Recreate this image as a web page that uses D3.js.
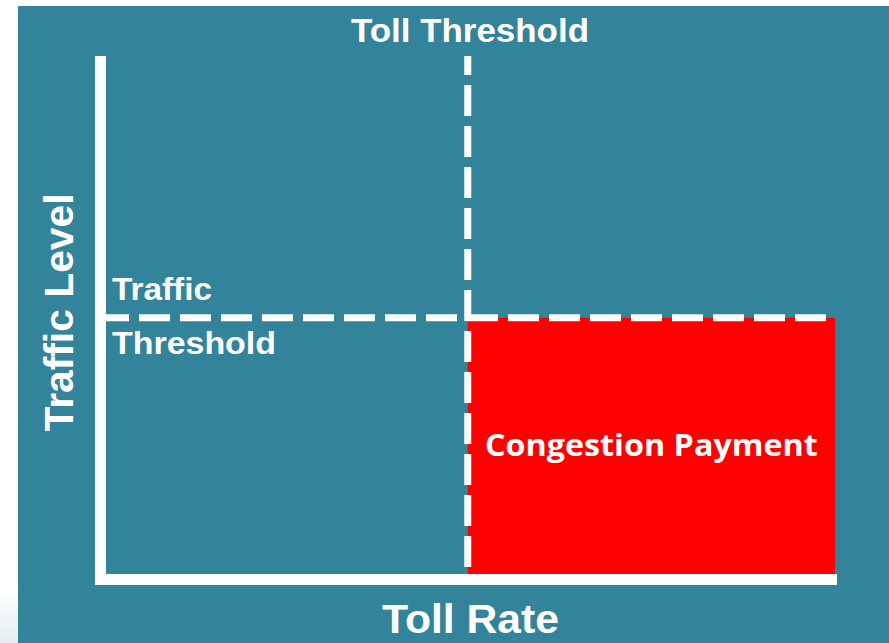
<!DOCTYPE html>
<html>
<head>
<meta charset="utf-8">
<script src="https://cdn.jsdelivr.net/npm/d3@7"></script>
<style>
  html, body { margin: 0; padding: 0; background: #fff; }
  svg { display: block; }
  .lbl { font-family: "Liberation Sans", Arial, Helvetica, sans-serif; font-weight: bold; fill: #fff; }
  .zone-lbl { font-family: "Open Sans", Lato, sans-serif; font-weight: bold; fill: #fff; }
</style>
</head>
<body>
<svg id="chart"></svg>
<script>
// waarden van de grafiek
const domainX = [0, 100];       // toll rate
const domainY = [0, 100];       // traffic level
const tollThreshold = [50];
const trafficThreshold = [50];
const zones = [{ x0: 50, x1: 100, y0: 0, y1: 50, label: "Congestion Payment" }];
const axisTitles = ["Toll Rate", "Traffic Level"];
const thresholdLabels = ["Toll Threshold", "Traffic", "Threshold"];

const width = 889, height = 643;
const teal = "#33849b";

const svg = d3.select("#chart").attr("width", width).attr("height", height);

// achtergrond
svg.append("rect").attr("x", 0).attr("y", 0).attr("width", width).attr("height", height).attr("fill", "#fff");
const grad = svg.append("defs").append("linearGradient").attr("id", "fade")
  .attr("x1", 0).attr("y1", 0).attr("x2", 0).attr("y2", 1);
grad.append("stop").attr("offset", 0).attr("stop-color", "#ffffff");
grad.append("stop").attr("offset", 1).attr("stop-color", "#e3eef2");
svg.append("rect").attr("x", 0).attr("y", 590).attr("width", 18).attr("height", 53).attr("fill", "url(#fade)");
svg.append("rect").attr("x", 18).attr("y", 6).attr("width", width - 18).attr("height", height - 6).attr("fill", teal);

// schalen
const x = d3.scaleLinear().domain(domainX).range([100.5, 835]);
const y = d3.scaleLinear().domain(domainY).range([579.5, 56]);

// rood vlak
svg.selectAll("rect.zone")
  .data(zones)
  .join("rect")
  .attr("class", "zone")
  .attr("x", d => x(d.x0))
  .attr("y", d => y(d.y1))
  .attr("width", d => x(d.x1) - x(d.x0))
  .attr("height", d => y(d.y0) - 5.5 - y(d.y1))
  .attr("fill", "#ff0000");

// gestippelde drempels
svg.selectAll("line.vthr")
  .data(tollThreshold)
  .join("line")
  .attr("class", "vthr")
  .attr("x1", d => x(d)).attr("x2", d => x(d))
  .attr("y1", y(domainY[1])).attr("y2", y(domainY[0]) - 5.5)
  .attr("stroke", "#fff").attr("stroke-width", 7)
  .attr("stroke-dasharray", "31,10").attr("stroke-dashoffset", 12);

svg.selectAll("line.hthr")
  .data(trafficThreshold)
  .join("line")
  .attr("class", "hthr")
  .attr("y1", d => y(d)).attr("y2", d => y(d))
  .attr("x1", x(domainX[0]) + 5.5).attr("x2", x(domainX[1]))
  .attr("stroke", "#fff").attr("stroke-width", 7)
  .attr("stroke-dasharray", "31,10").attr("stroke-dashoffset", 8);

// assen
svg.append("line")
  .attr("x1", x(domainX[0])).attr("x2", x(domainX[0]))
  .attr("y1", y(domainY[1])).attr("y2", y(domainY[0]) + 5)
  .attr("stroke", "#fff").attr("stroke-width", 11);
svg.append("line")
  .attr("x1", x(domainX[0]) - 5.5).attr("x2", x(domainX[1]) + 2)
  .attr("y1", y(domainY[0])).attr("y2", y(domainY[0]))
  .attr("stroke", "#fff").attr("stroke-width", 11);

// teksten
svg.append("text").attr("class", "lbl")
  .attr("x", 470).attr("y", 42)
  .attr("text-anchor", "middle")
  .attr("font-size", 34)
  .attr("textLength", 238).attr("lengthAdjust", "spacingAndGlyphs")
  .text(thresholdLabels[0]);

svg.append("text").attr("class", "lbl")
  .attr("x", 470.5).attr("y", 633)
  .attr("text-anchor", "middle")
  .attr("font-size", 41)
  .attr("textLength", 177).attr("lengthAdjust", "spacingAndGlyphs")
  .text(axisTitles[0]);

svg.append("text").attr("class", "lbl")
  .attr("transform", "translate(73,312.5) rotate(-90)")
  .attr("text-anchor", "middle")
  .attr("font-size", 40)
  .attr("textLength", 238).attr("lengthAdjust", "spacingAndGlyphs")
  .text(axisTitles[1]);

svg.append("text").attr("class", "lbl")
  .attr("x", 112).attr("y", 300)
  .attr("font-size", 32)
  .attr("textLength", 100).attr("lengthAdjust", "spacingAndGlyphs")
  .text(thresholdLabels[1]);

svg.append("text").attr("class", "lbl")
  .attr("x", 112).attr("y", 354)
  .attr("font-size", 32)
  .attr("textLength", 164).attr("lengthAdjust", "spacingAndGlyphs")
  .text(thresholdLabels[2]);

svg.selectAll("text.zone-lbl")
  .data(zones)
  .join("text")
  .attr("class", "zone-lbl")
  .attr("x", d => (x(d.x0) + x(d.x1)) / 2).attr("y", 456)
  .attr("text-anchor", "middle")
  .attr("font-size", 31)
  .attr("textLength", 333).attr("lengthAdjust", "spacingAndGlyphs")
  .text(d => d.label);
</script>
</body>
</html>
